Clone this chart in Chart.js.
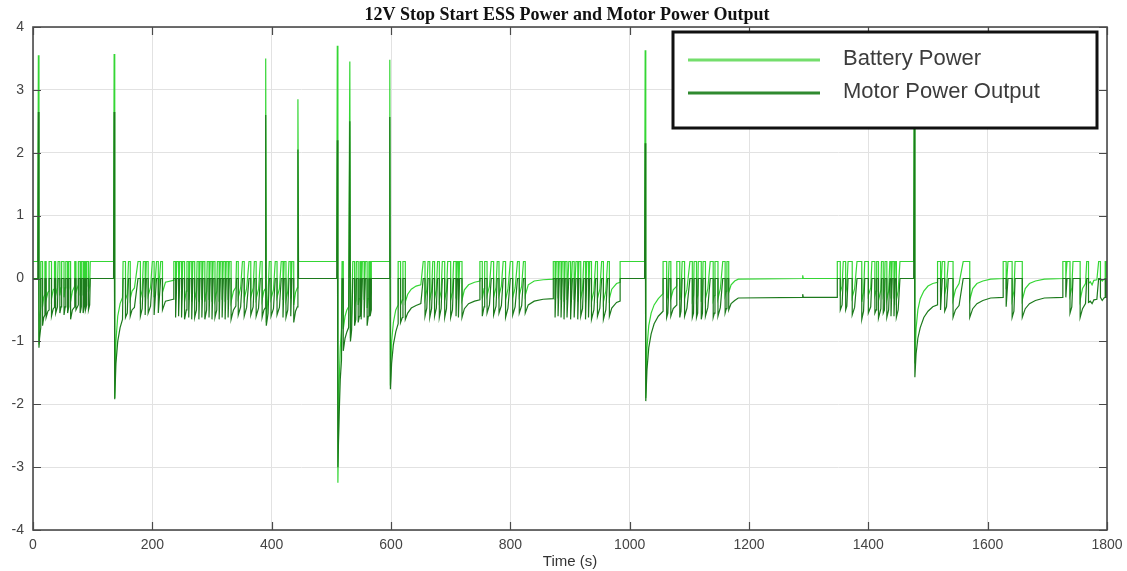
<!DOCTYPE html>
<html>
<head>
<meta charset="utf-8">
<title>12V Stop Start ESS Power and Motor Power Output</title>
<script src="https://cdn.jsdelivr.net/npm/chart.js@4"></script>
<style>
  html, body { margin: 0; padding: 0; background: #fff; }
  #wrap { width: 1127px; height: 571px; position: relative; }
</style>
</head>
<body>
<div id="wrap"><canvas id="essChart"></canvas></div>
<script>
// tick positions
const xTicks = [0, 200, 400, 600, 800, 1000, 1200, 1400, 1600, 1800];
const yTicks = [-4, -3, -2, -1, 0, 1, 2, 3, 4];

const seriesNames = ["Battery Power", "Motor Power Output"];

// [time (s), power] — battery side of the ESS
const batteryPower = [
  [0,0.27],[8,0.27],[9,3.55],[10,-1.05],[11,-0.7],[13,-0.45],[13,0.27],[16,0.27],[16,-0.45],[18,-0.3],[20,-0.25],[20,0.27],[22,0.27],[22,-0.34],[25,-0.22],[27,-0.2],[27,0.27],[31,0.27],[31,-0.32],[34,-0.18],[36,-0.16],[36,0.27],[38,0.27],[38,-0.27],[41,-0.15],[42,0.27],[45,0.27],[45,-0.27],[47,-0.15],[48,0.27],[52,0.27],[52,-0.3],[54,-0.15],[55,0.27],[58,0.27],[58,-0.27],[60,-0.15],[60,0.27],[63,0.27],[63,-0.37],[66,-0.2],[70,-0.12],[70,0.27],[72,0.27],[72,-0.22],[76,-0.1],[76,0.27],[79,0.27],[79,-0.27],[81,-0.15],[81,0.27],[84,0.27],[84,-0.27],[86,-0.15],[86,0.27],[88,0.27],[88,-0.22],[90,-0.12],[90,0.27],[93,0.27],[93,-0.22],[95,-0.12],[96,0.27],[135,0.27],
  [136,3.57],[137,-1.9],[139,-1.0],[142,-0.6],[146,-0.4],[150,-0.3],[151,0.27],[155,0.27],[155,-0.34],[158,-0.25],[160,0.27],[163,0.27],[163,-0.32],[166,-0.2],[170,-0.15],[176,0.27],[180,0.27],[180,-0.32],[183,-0.18],[185,0.27],[188,0.27],[188,-0.3],[190,0.27],[193,0.27],[193,-0.27],[197,-0.14],[200,0.27],[203,0.27],[203,-0.3],[207,0.27],[210,0.27],[210,-0.27],[214,0.27],[217,0.27],[217,-0.22],[222,-0.06],[235,-0.03],[236,0.27],[239,0.27],[239,-0.34],[241,0.27],[244,0.27],[244,-0.32],[246,0.27],[249,0.27],[249,-0.34],[251,0.27],[254,0.27],[254,-0.37],[257,-0.2],[258,0.27],[261,0.27],[261,-0.34],[263,0.27],[266,0.27],[266,-0.37],[268,0.27],[271,0.27],[271,-0.34],[274,-0.2],[275,0.27],[278,0.27],[278,-0.37],[280,0.27],[283,0.27],[283,-0.34],[285,0.27],[288,0.27],[288,-0.37],[291,-0.2],[292,0.27],[295,0.27],[295,-0.34],[297,0.27],[300,0.27],[300,-0.37],[302,0.27],[305,0.27],[305,-0.34],[308,-0.2],[309,0.27],[312,0.27],[312,-0.37],[314,0.27],[317,0.27],[317,-0.34],[319,0.27],[322,0.27],[322,-0.37],[324,0.27],[327,0.27],[327,-0.34],[329,0.27],[332,0.27],[332,-0.37],[336,-0.2],[340,-0.14],[341,0.27],[344,0.27],[344,-0.3],[348,-0.15],[351,0.27],[354,0.27],[354,-0.32],[358,-0.16],[362,0.27],[365,0.27],[365,-0.3],[369,-0.15],[371,0.27],[374,0.27],[374,-0.32],[378,-0.17],[381,0.27],[384,0.27],[384,-0.34],[387,-0.2],[389,-0.17],[390,3.5],[391,-0.7],[394,-0.25],[396,0.27],[399,0.27],[399,-0.32],[403,-0.18],[406,0.27],[409,0.27],[409,-0.3],[413,-0.16],[416,0.27],[419,0.27],[419,-0.34],[421,0.27],[424,0.27],[424,-0.34],[427,-0.2],[429,0.27],[432,0.27],[432,-0.32],[434,0.27],[437,0.27],[437,-0.42],[440,-0.22],[443,-0.15],[444,2.85],[445,0.27],[509,0.27],
  [510,3.7],[511,-3.25],[513,-1.7],[515,-1.1],[517,-0.8],[518,0.27],[520,0.27],[520,-0.8],[523,-0.6],[526,-0.5],[529,-0.45],[531,3.45],[532,-0.95],[534,-0.55],[536,0.27],[539,0.27],[539,-0.45],[541,-0.35],[542,0.27],[545,0.27],[545,-0.42],[547,-0.32],[548,0.27],[550,0.27],[550,-0.37],[552,0.27],[555,0.27],[555,-0.34],[557,0.27],[560,0.27],[560,-0.47],[562,-0.32],[563,0.27],[565,0.27],[565,-0.32],[567,-0.22],[567,0.27],[597,0.27],
  [598,3.48],[599,-1.7],[601,-1.0],[604,-0.7],[608,-0.5],[612,-0.42],[612,0.27],[616,0.27],[616,-0.42],[619,-0.34],[620,0.27],[624,0.27],[624,-0.37],[628,-0.25],[634,-0.17],[642,-0.12],[650,-0.1],[654,0.27],[657,0.27],[657,-0.32],[660,-0.18],[662,0.27],[665,0.27],[665,-0.34],[668,-0.2],[670,0.27],[673,0.27],[673,-0.32],[676,-0.18],[678,0.27],[681,0.27],[681,-0.34],[684,-0.2],[686,0.27],[690,0.27],[690,-0.34],[693,-0.2],[695,0.27],[700,0.27],[700,-0.34],[703,-0.22],[705,0.27],[709,0.27],[709,-0.32],[711,0.27],[713,0.27],[713,-0.34],[715,0.27],[719,0.27],[719,-0.34],[723,-0.18],[730,-0.1],[740,-0.06],[749,-0.04],[749,0.27],[753,0.27],[753,-0.32],[756,-0.16],[757,0.27],[761,0.27],[761,-0.27],[765,-0.12],[768,0.27],[772,0.27],[772,-0.3],[776,-0.14],[778,0.27],[781,0.27],[781,-0.27],[785,-0.12],[788,0.27],[792,0.27],[792,-0.34],[796,-0.17],[800,0.27],[804,0.27],[804,-0.3],[808,-0.15],[812,0.27],[815,0.27],[815,-0.27],[819,-0.12],[822,0.27],[825,0.27],[825,-0.27],[830,-0.1],[840,-0.04],[855,-0.02],[872,-0.01],[872,0.27],[875,0.27],[875,-0.34],[877,0.27],[880,0.27],[880,-0.32],[882,0.27],[885,0.27],[885,-0.34],[887,0.27],[890,0.27],[890,-0.37],[892,0.27],[895,0.27],[895,-0.34],[898,0.27],[901,0.27],[901,-0.37],[904,0.27],[907,0.27],[907,-0.34],[910,0.27],[913,0.27],[913,-0.37],[915,0.27],[918,0.27],[918,-0.32],[921,-0.18],[923,0.27],[926,0.27],[926,-0.37],[928,0.27],[931,0.27],[931,-0.34],[933,0.27],[936,0.27],[936,-0.37],[940,-0.2],[943,0.27],[946,0.27],[946,-0.32],[950,-0.17],[953,0.27],[956,0.27],[956,-0.37],[960,-0.2],[963,0.27],[966,0.27],[966,-0.32],[970,-0.17],[978,-0.08],[984,-0.06],[984,0.27],[1025,0.27],
  [1026,3.63],[1027,-1.9],[1029,-1.1],[1032,-0.75],[1036,-0.55],[1041,-0.42],[1048,-0.32],[1056,-0.24],[1056,0.27],[1062,0.27],[1062,-0.34],[1064,-0.27],[1066,0.27],[1069,0.27],[1069,-0.32],[1073,-0.18],[1079,-0.12],[1079,0.27],[1084,0.27],[1084,-0.34],[1086,-0.24],[1088,0.27],[1092,0.27],[1092,-0.32],[1096,-0.17],[1101,0.27],[1105,0.27],[1105,-0.34],[1107,-0.27],[1108,0.27],[1112,0.27],[1112,-0.34],[1114,-0.27],[1115,0.27],[1120,0.27],[1120,-0.37],[1122,-0.27],[1123,0.27],[1127,0.27],[1127,-0.32],[1131,-0.16],[1135,0.27],[1140,0.27],[1140,-0.34],[1142,-0.27],[1143,0.27],[1148,0.27],[1148,-0.32],[1152,-0.16],[1156,0.27],[1160,0.27],[1160,-0.27],[1162,-0.2],[1163,0.27],[1166,0.27],[1166,-0.22],[1170,-0.1],[1176,-0.04],[1182,-0.01],[1290,0],[1290,0.05],[1291,0],[1348,0],
  [1348,0.27],[1353,0.27],[1353,-0.22],[1356,-0.12],[1358,0.27],[1362,0.27],[1362,-0.22],[1364,-0.14],[1366,0.27],[1373,0.27],[1373,-0.3],[1377,-0.16],[1381,0.27],[1389,0.27],[1389,-0.37],[1392,-0.22],[1394,0.27],[1400,0.27],[1400,-0.27],[1404,-0.15],[1406,0.27],[1411,0.27],[1411,-0.27],[1413,-0.2],[1414,0.27],[1417,0.27],[1417,-0.35],[1421,-0.18],[1422,0.27],[1425,0.27],[1425,-0.27],[1427,-0.2],[1428,0.27],[1431,0.27],[1431,-0.34],[1434,-0.2],[1436,0.27],[1438,0.27],[1438,-0.32],[1440,0.27],[1443,0.27],[1443,-0.32],[1445,0.27],[1447,0.27],[1447,-0.34],[1450,-0.2],[1453,0.27],[1476,0.27],
  [1477,3.4],[1478,-1.35],[1480,-0.8],[1483,-0.5],[1487,-0.32],[1493,-0.2],[1500,-0.12],[1508,-0.08],[1516,-0.06],[1516,0.27],[1521,0.27],[1521,-0.22],[1524,0.27],[1528,0.27],[1528,-0.24],[1531,-0.12],[1534,0.27],[1542,0.27],[1542,-0.34],[1546,-0.18],[1552,-0.08],[1559,0.27],[1570,0.27],[1570,-0.34],[1575,-0.16],[1582,-0.08],[1592,-0.04],[1605,-0.01],[1626,0],[1626,0.27],[1631,0.27],[1631,-0.17],[1634,0.27],[1641,0.27],[1641,-0.34],[1644,-0.2],[1646,0.27],[1658,0.27],[1658,-0.34],[1663,-0.16],[1670,-0.08],[1680,-0.04],[1695,-0.01],[1726,0],[1726,0.27],[1731,0.27],[1731,0],[1733,0.27],[1738,0.27],[1738,-0.27],[1741,-0.15],[1743,0.27],[1755,0.27],[1755,-0.34],[1759,-0.16],[1764,-0.08],[1766,0.27],[1769,0.27],[1769,-0.08],[1772,-0.05],[1775,-0.1],[1778,-0.03],[1783,-0.02],[1786,0.27],[1789,0.27],[1789,0],[1792,-0.04],[1795,-0.01],[1797,0],[1797,0.27],[1799,0.27],[1799,0.02],[1800,0.02]
];

// [time (s), power] — motor output
const motorPowerOutput = [
  [0,0],[8,0],[9,2.65],[10,-1.1],[11,-0.95],[13,-0.78],[13,0],[16,0],[16,-0.75],[18,-0.62],[20,-0.58],[20,0],[22,0],[22,-0.62],[25,-0.52],[27,-0.5],[27,0],[31,0],[31,-0.6],[34,-0.48],[36,-0.46],[36,0],[38,0],[38,-0.55],[41,-0.45],[42,0],[45,0],[45,-0.55],[47,-0.45],[48,0],[52,0],[52,-0.58],[54,-0.45],[55,0],[58,0],[58,-0.55],[60,-0.45],[60,0],[63,0],[63,-0.65],[66,-0.5],[70,-0.45],[70,0],[72,0],[72,-0.5],[76,-0.42],[76,0],[79,0],[79,-0.55],[81,-0.45],[81,0],[84,0],[84,-0.55],[86,-0.45],[86,0],[88,0],[88,-0.5],[90,-0.42],[90,0],[93,0],[93,-0.5],[95,-0.42],[96,0],[135,0],
  [136,2.65],[137,-1.92],[139,-1.35],[142,-1.0],[146,-0.78],[150,-0.65],[151,0],[155,0],[155,-0.62],[158,-0.55],[160,0],[163,0],[163,-0.6],[166,-0.5],[170,-0.46],[176,0],[180,0],[180,-0.6],[183,-0.48],[185,0],[188,0],[188,-0.58],[190,0],[193,0],[193,-0.55],[197,-0.44],[200,0],[203,0],[203,-0.58],[207,0],[210,0],[210,-0.55],[214,0],[217,0],[217,-0.5],[222,-0.36],[235,-0.33],[236,0],[239,0],[239,-0.62],[241,0],[244,0],[244,-0.6],[246,0],[249,0],[249,-0.62],[251,0],[254,0],[254,-0.65],[257,-0.5],[258,0],[261,0],[261,-0.62],[263,0],[266,0],[266,-0.65],[268,0],[271,0],[271,-0.62],[274,-0.5],[275,0],[278,0],[278,-0.65],[280,0],[283,0],[283,-0.62],[285,0],[288,0],[288,-0.65],[291,-0.5],[292,0],[295,0],[295,-0.62],[297,0],[300,0],[300,-0.65],[302,0],[305,0],[305,-0.62],[308,-0.5],[309,0],[312,0],[312,-0.65],[314,0],[317,0],[317,-0.62],[319,0],[322,0],[322,-0.65],[324,0],[327,0],[327,-0.62],[329,0],[332,0],[332,-0.65],[336,-0.5],[340,-0.44],[341,0],[344,0],[344,-0.58],[348,-0.45],[351,0],[354,0],[354,-0.6],[358,-0.46],[362,0],[365,0],[365,-0.58],[369,-0.45],[371,0],[374,0],[374,-0.6],[378,-0.47],[381,0],[384,0],[384,-0.62],[387,-0.5],[389,-0.47],[390,2.6],[391,-0.75],[394,-0.55],[396,0],[399,0],[399,-0.6],[403,-0.48],[406,0],[409,0],[409,-0.58],[413,-0.46],[416,0],[419,0],[419,-0.62],[421,0],[424,0],[424,-0.62],[427,-0.5],[429,0],[432,0],[432,-0.6],[434,0],[437,0],[437,-0.7],[440,-0.52],[443,-0.45],[444,2.05],[445,0],[509,0],
  [510,2.2],[511,-3.0],[513,-2.2],[515,-1.6],[517,-1.3],[518,0],[520,0],[520,-1.15],[523,-0.95],[526,-0.85],[529,-0.78],[531,2.5],[532,-1.0],[534,-0.82],[536,0],[539,0],[539,-0.75],[541,-0.65],[542,0],[545,0],[545,-0.7],[547,-0.6],[548,0],[550,0],[550,-0.65],[552,0],[555,0],[555,-0.62],[557,0],[560,0],[560,-0.75],[562,-0.6],[563,0],[565,0],[565,-0.6],[567,-0.5],[567,0],[597,0],
  [598,2.57],[599,-1.76],[601,-1.35],[604,-1.05],[608,-0.85],[612,-0.72],[612,0],[616,0],[616,-0.7],[619,-0.62],[620,0],[624,0],[624,-0.65],[628,-0.55],[634,-0.47],[642,-0.43],[650,-0.4],[654,0],[657,0],[657,-0.6],[660,-0.47],[662,0],[665,0],[665,-0.62],[668,-0.48],[670,0],[673,0],[673,-0.6],[676,-0.47],[678,0],[681,0],[681,-0.62],[684,-0.48],[686,0],[690,0],[690,-0.62],[693,-0.48],[695,0],[700,0],[700,-0.62],[703,-0.5],[705,0],[709,0],[709,-0.6],[711,0],[713,0],[713,-0.62],[715,0],[719,0],[719,-0.62],[723,-0.48],[730,-0.4],[740,-0.36],[749,-0.34],[749,0],[753,0],[753,-0.6],[756,-0.45],[757,0],[761,0],[761,-0.55],[765,-0.42],[768,0],[772,0],[772,-0.58],[776,-0.44],[778,0],[781,0],[781,-0.55],[785,-0.43],[788,0],[792,0],[792,-0.62],[796,-0.47],[800,0],[804,0],[804,-0.58],[808,-0.45],[812,0],[815,0],[815,-0.55],[819,-0.43],[822,0],[825,0],[825,-0.55],[830,-0.42],[840,-0.36],[855,-0.33],[872,-0.32],[872,0],[875,0],[875,-0.62],[877,0],[880,0],[880,-0.6],[882,0],[885,0],[885,-0.62],[887,0],[890,0],[890,-0.65],[892,0],[895,0],[895,-0.62],[898,0],[901,0],[901,-0.65],[904,0],[907,0],[907,-0.62],[910,0],[913,0],[913,-0.65],[915,0],[918,0],[918,-0.6],[921,-0.48],[923,0],[926,0],[926,-0.65],[928,0],[931,0],[931,-0.62],[933,0],[936,0],[936,-0.65],[940,-0.5],[943,0],[946,0],[946,-0.6],[950,-0.47],[953,0],[956,0],[956,-0.65],[960,-0.5],[963,0],[966,0],[966,-0.6],[970,-0.47],[978,-0.38],[984,-0.36],[984,0],[1025,0],
  [1026,2.15],[1027,-1.95],[1029,-1.45],[1032,-1.1],[1036,-0.88],[1041,-0.72],[1048,-0.6],[1056,-0.52],[1056,0],[1062,0],[1062,-0.62],[1064,-0.55],[1066,0],[1069,0],[1069,-0.6],[1073,-0.48],[1079,-0.42],[1079,0],[1084,0],[1084,-0.62],[1086,-0.52],[1088,0],[1092,0],[1092,-0.6],[1096,-0.47],[1101,0],[1105,0],[1105,-0.62],[1107,-0.55],[1108,0],[1112,0],[1112,-0.62],[1114,-0.55],[1115,0],[1120,0],[1120,-0.65],[1122,-0.55],[1123,0],[1127,0],[1127,-0.6],[1131,-0.46],[1135,0],[1140,0],[1140,-0.62],[1142,-0.55],[1143,0],[1148,0],[1148,-0.6],[1152,-0.46],[1156,0],[1160,0],[1160,-0.55],[1162,-0.48],[1163,0],[1166,0],[1166,-0.5],[1170,-0.4],[1176,-0.35],[1182,-0.31],[1290,-0.3],[1290,-0.25],[1291,-0.3],[1348,-0.3],
  [1348,0],[1353,0],[1353,-0.5],[1356,-0.42],[1358,0],[1362,0],[1362,-0.5],[1364,-0.44],[1366,0],[1373,0],[1373,-0.58],[1377,-0.46],[1381,0],[1389,0],[1389,-0.65],[1392,-0.52],[1394,0],[1400,0],[1400,-0.55],[1404,-0.45],[1406,0],[1411,0],[1411,-0.55],[1413,-0.5],[1414,0],[1417,0],[1417,-0.63],[1421,-0.48],[1422,0],[1425,0],[1425,-0.55],[1427,-0.5],[1428,0],[1431,0],[1431,-0.62],[1434,-0.5],[1436,0],[1438,0],[1438,-0.6],[1440,0],[1443,0],[1443,-0.6],[1445,0],[1447,0],[1447,-0.62],[1450,-0.5],[1453,0],[1476,0],
  [1477,2.5],[1478,-1.57],[1480,-1.2],[1483,-0.95],[1487,-0.78],[1493,-0.62],[1500,-0.52],[1508,-0.45],[1516,-0.42],[1516,0],[1521,0],[1521,-0.5],[1524,0],[1528,0],[1528,-0.52],[1531,-0.45],[1534,0],[1542,0],[1542,-0.62],[1546,-0.5],[1552,-0.43],[1559,0],[1570,0],[1570,-0.62],[1575,-0.48],[1582,-0.4],[1592,-0.35],[1605,-0.31],[1626,-0.3],[1626,0],[1631,0],[1631,-0.45],[1634,0],[1641,0],[1641,-0.62],[1644,-0.52],[1646,0],[1658,0],[1658,-0.62],[1663,-0.48],[1670,-0.4],[1680,-0.35],[1695,-0.31],[1726,-0.3],[1726,0],[1731,0],[1731,-0.3],[1733,0],[1738,0],[1738,-0.55],[1741,-0.45],[1743,0],[1755,0],[1755,-0.62],[1759,-0.48],[1764,-0.4],[1766,0],[1769,0],[1769,-0.38],[1772,-0.36],[1775,-0.4],[1778,-0.34],[1783,-0.33],[1786,0],[1789,0],[1789,-0.3],[1792,-0.35],[1795,-0.31],[1797,-0.3],[1797,0],[1799,0],[1799,-0.3],[1800,-0.3]
];

const lineColors = ["rgb(52, 214, 52)", "rgb(28, 122, 28)"];
const legendColors = ["#74de6c", "#2f8a2f"];

document.addEventListener("DOMContentLoaded", () => {
  const toXY = (pts) => pts.map(([x, y]) => ({ x, y }));

  // frame with inward ticks, boxed legend and serif title, matlab style
  const decorations = {
    id: "decorations",
    afterDatasetsDraw(chart) {
      const { ctx, chartArea: a, scales: { x, y } } = chart;
      ctx.save();
      ctx.strokeStyle = "#4a4a4a";
      ctx.lineWidth = 1.2;
      ctx.beginPath();
      xTicks.forEach((v) => {
        const px = Math.round(x.getPixelForValue(v)) + 0.5;
        ctx.moveTo(px, a.bottom); ctx.lineTo(px, a.bottom - 8);
        ctx.moveTo(px, a.top); ctx.lineTo(px, a.top + 8);
      });
      yTicks.forEach((v) => {
        const py = Math.round(y.getPixelForValue(v)) + 0.5;
        ctx.moveTo(a.left, py); ctx.lineTo(a.left + 8, py);
        ctx.moveTo(a.right, py); ctx.lineTo(a.right - 8, py);
      });
      ctx.stroke();
      ctx.lineWidth = 1.6;
      ctx.strokeRect(a.left, a.top, a.right - a.left, a.bottom - a.top);

      // legend box
      const lx = a.right - 434, ly = a.top + 5, lw = 424, lh = 96;
      ctx.fillStyle = "#fff";
      ctx.fillRect(lx, ly, lw, lh);
      ctx.lineWidth = 3;
      ctx.strokeStyle = "#111";
      ctx.strokeRect(lx, ly, lw, lh);
      ctx.font = "22px 'Liberation Sans', Arial, sans-serif";
      ctx.textBaseline = "middle";
      ctx.textAlign = "left";
      seriesNames.forEach((name, i) => {
        const rowY = ly + 28 + i * 33;
        ctx.strokeStyle = legendColors[i];
        ctx.lineWidth = 3;
        ctx.beginPath();
        ctx.moveTo(lx + 15, rowY);
        ctx.lineTo(lx + 147, rowY);
        ctx.stroke();
        ctx.fillStyle = "#3c3c3c";
        ctx.fillText(name, lx + 170, rowY - 1);
      });
      ctx.restore();
    },
    afterDraw(chart) {
      const { ctx, chartArea: a } = chart;
      ctx.save();
      ctx.font = "bold 18px 'Liberation Serif', 'Times New Roman', serif";
      ctx.fillStyle = "#111";
      ctx.textAlign = "center";
      ctx.textBaseline = "middle";
      ctx.fillText("12V Stop Start ESS Power and Motor Power Output", (a.left + a.right) / 2 - 3, 15);
      ctx.restore();
    }
  };

  const tickFont = { family: "'Liberation Sans', Arial, sans-serif", size: 14 };

  new Chart(document.getElementById("essChart"), {
    type: "line",
    data: {
      datasets: [
        {
          label: seriesNames[1],
          data: toXY(motorPowerOutput),
          borderColor: lineColors[1],
          borderWidth: 1.2,
          pointRadius: 0,
          tension: 0,
          order: 0
        },
        {
          label: seriesNames[0],
          data: toXY(batteryPower),
          borderColor: lineColors[0],
          borderWidth: 1.2,
          pointRadius: 0,
          tension: 0,
          order: 1
        }
      ]
    },
    options: {
      responsive: true,
      maintainAspectRatio: false,
      animation: false,
      parsing: false,
      layout: { padding: { top: 27, right: 20, left: 0, bottom: 0 } },
      plugins: {
        legend: { display: false },
        title: { display: false },
        tooltip: { enabled: false }
      },
      scales: {
        x: {
          type: "linear",
          min: xTicks[0],
          max: xTicks[xTicks.length - 1],
          afterBuildTicks: (s) => { s.ticks = xTicks.map((v) => ({ value: v })); },
          afterFit: (s) => { s.height = 41; s.paddingLeft = 0; s.paddingRight = 0; },
          grid: { color: "#e2e2e2", lineWidth: 1, drawTicks: false },
          border: { display: false },
          ticks: {
            color: "#444", font: tickFont, padding: 7, autoSkip: false, maxRotation: 0,
            callback: (v) => String(v)
          },
          title: {
            display: true,
            text: "Time (s)",
            color: "#333",
            font: { family: "'Liberation Sans', Arial, sans-serif", size: 15 },
            padding: { top: 0, bottom: 0 }
          }
        },
        y: {
          type: "linear",
          min: yTicks[0],
          max: yTicks[yTicks.length - 1],
          afterBuildTicks: (s) => { s.ticks = yTicks.map((v) => ({ value: v })); },
          afterFit: (s) => { s.width = 33; s.paddingTop = 0; s.paddingBottom = 0; },
          grid: { color: "#e2e2e2", lineWidth: 1, drawTicks: false },
          border: { display: false },
          ticks: { color: "#444", font: tickFont, padding: 9, callback: (v) => String(v) }
        }
      }
    },
    plugins: [decorations]
  });
});
</script>
</body>
</html>
